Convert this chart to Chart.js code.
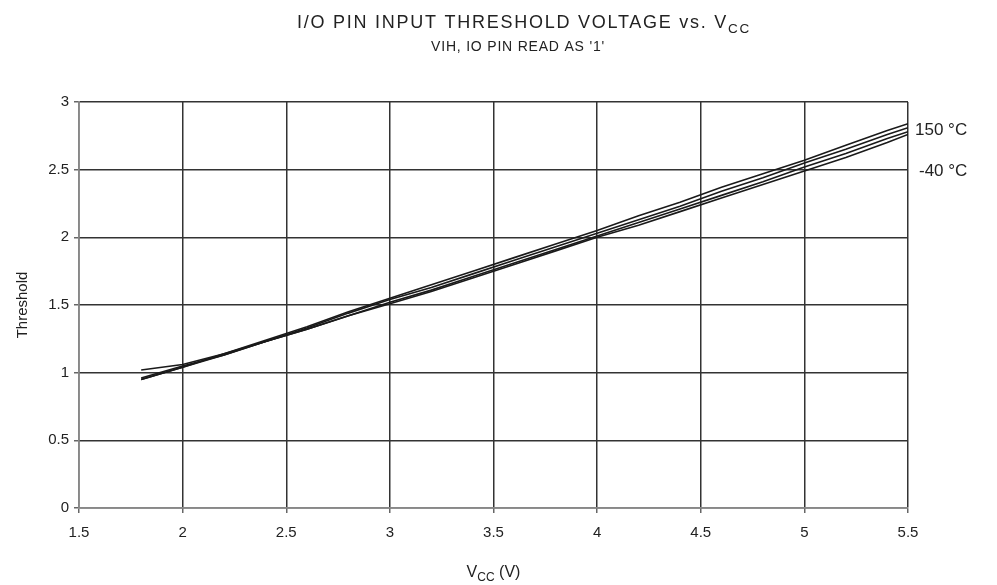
<!DOCTYPE html>
<html>
<head>
<meta charset="utf-8">
<script src="https://cdn.jsdelivr.net/npm/chart.js@4.4.1/dist/chart.umd.min.js"></script>
<style>
  html, body { margin: 0; padding: 0; background: #fff; }
  #wrap { width: 997px; height: 585px; position: relative; }
</style>
</head>
<body>
<div id="wrap"><canvas id="chart" width="997" height="585"></canvas></div>
<script>
var FONT = "'Liberation Sans', Arial, Helvetica, sans-serif";
var TEXT_COLOR = "#222";

// supply voltage points (V)
var vcc = [1.8, 2.0, 2.2, 2.4, 2.6, 2.8, 3.0, 3.2, 3.4, 3.6, 3.8, 4.0, 4.2, 4.4, 4.6, 4.8, 5.0, 5.2, 5.4, 5.5];

// threshold curves
var tMinus40 = [1.02, 1.06, 1.14, 1.23, 1.32, 1.42, 1.51, 1.60, 1.70, 1.80, 1.90, 2.00, 2.09, 2.19, 2.29, 2.39, 2.49, 2.59, 2.70, 2.76];
var t25 = [0.96, 1.05, 1.13, 1.23, 1.32, 1.42, 1.52, 1.61, 1.71, 1.81, 1.91, 2.01, 2.11, 2.21, 2.31, 2.41, 2.52, 2.62, 2.73, 2.78];
var t85 = [0.95, 1.04, 1.13, 1.23, 1.33, 1.44, 1.54, 1.63, 1.73, 1.83, 1.93, 2.03, 2.13, 2.23, 2.34, 2.44, 2.55, 2.65, 2.76, 2.81];
var t150 = [0.95, 1.04, 1.14, 1.24, 1.34, 1.45, 1.55, 1.65, 1.75, 1.85, 1.95, 2.05, 2.16, 2.26, 2.37, 2.47, 2.57, 2.68, 2.79, 2.84];

var seriesNames = ["-40 °C", "25 °C", "85 °C", "150 °C"];
var seriesValues = [tMinus40, t25, t85, t150];

var xTicks = [1.5, 2, 2.5, 3, 3.5, 4, 4.5, 5, 5.5];
var yTicks = [0, 0.5, 1, 1.5, 2, 2.5, 3];

function toPoints(ys) {
  var pts = [];
  for (var i = 0; i < vcc.length; i++) {
    pts.push({ x: vcc[i], y: ys[i] });
  }
  return pts;
}

var datasets = [];
for (var s = 0; s < seriesValues.length; s++) {
  datasets.push({
    label: seriesNames[s],
    data: toPoints(seriesValues[s]),
    borderColor: "#1a1a1a",
    borderWidth: 1.6,
    pointRadius: 0,
    showLine: true,
    tension: 0,
    fill: false
  });
}

// text with subscript part, drawn centred at x
function drawSubText(ctx, parts, x, y, size, spacing) {
  ctx.letterSpacing = (spacing || 0) + "px";
  var total = 0;
  for (var i = 0; i < parts.length; i++) {
    var sz = parts[i].sub ? size * 0.75 : size;
    ctx.font = sz + "px " + FONT;
    parts[i].w = ctx.measureText(parts[i].t).width;
    parts[i].sz = sz;
    total += parts[i].w;
  }
  var cx = x - total / 2;
  ctx.textAlign = "left";
  ctx.textBaseline = "alphabetic";
  for (var j = 0; j < parts.length; j++) {
    ctx.font = parts[j].sz + "px " + FONT;
    ctx.fillText(parts[j].t, cx, parts[j].sub ? y + size * 0.25 : y);
    cx += parts[j].w;
  }
  ctx.letterSpacing = "0px";
}

var textPlugin = {
  id: "texts",
  afterDraw: function (chart) {
    var ctx = chart.ctx;
    var area = chart.chartArea;
    var yScale = chart.scales.y;
    ctx.save();
    ctx.fillStyle = TEXT_COLOR;

    drawSubText(ctx, [{ t: "I/O PIN INPUT THRESHOLD VOLTAGE vs. V" }, { t: "CC", sub: true }], 524, 28, 18, 1.75);
    drawSubText(ctx, [{ t: "VIH, IO PIN READ AS '1'" }], 518, 51, 14, 0.8);
    drawSubText(ctx, [{ t: "V" }, { t: "CC", sub: true }, { t: " (V)" }], (area.left + area.right) / 2, 577, 16);

    ctx.translate(23, (area.top + area.bottom) / 2);
    ctx.rotate(-Math.PI / 2);
    ctx.font = "15px " + FONT;
    ctx.textAlign = "center";
    ctx.textBaseline = "middle";
    ctx.fillText("Threshold", 0, 0);
    ctx.restore();

    ctx.save();
    ctx.fillStyle = TEXT_COLOR;
    ctx.font = "17px " + FONT;
    ctx.textAlign = "left";
    ctx.textBaseline = "middle";
    ctx.fillText("150 °C", area.right + 7, yScale.getPixelForValue(2.79));
    ctx.fillText("-40 °C", area.right + 11, yScale.getPixelForValue(2.49));
    ctx.restore();
  }
};

new Chart(document.getElementById("chart"), {
  type: "scatter",
  data: { datasets: datasets },
  plugins: [textPlugin],
  options: {
    responsive: false,
    animation: false,
    layout: { padding: { left: 0, right: 89, top: 102, bottom: 0 } },
    plugins: {
      legend: { display: false },
      tooltip: { enabled: false },
      title: { display: false }
    },
    scales: {
      x: {
        type: "linear",
        min: 1.5,
        max: 5.5,
        afterBuildTicks: function (axis) {
          axis.ticks = xTicks.map(function (v) { return { value: v }; });
        },
        afterFit: function (axis) { axis.height = 77; },
        grid: { color: "#333", lineWidth: 1.5, tickLength: 5, drawTicks: true, tickColor: "#666" },
        border: { color: "#888", width: 1.5 },
        ticks: {
          color: TEXT_COLOR,
          font: { family: FONT, size: 15 },
          padding: 11,
          maxRotation: 0,
          callback: function (v) { return String(v); }
        }
      },
      y: {
        type: "linear",
        min: 0,
        max: 3,
        afterBuildTicks: function (axis) {
          axis.ticks = yTicks.map(function (v) { return { value: v }; });
        },
        afterFit: function (axis) { axis.width = 79; },
        grid: { color: "#333", lineWidth: 1.5, tickLength: 5, tickColor: "#666" },
        border: { color: "#888", width: 1.5 },
        ticks: {
          color: TEXT_COLOR,
          font: { family: FONT, size: 15 },
          padding: 5,
          callback: function (v) { return String(v); }
        }
      }
    }
  }
});
</script>
</body>
</html>
